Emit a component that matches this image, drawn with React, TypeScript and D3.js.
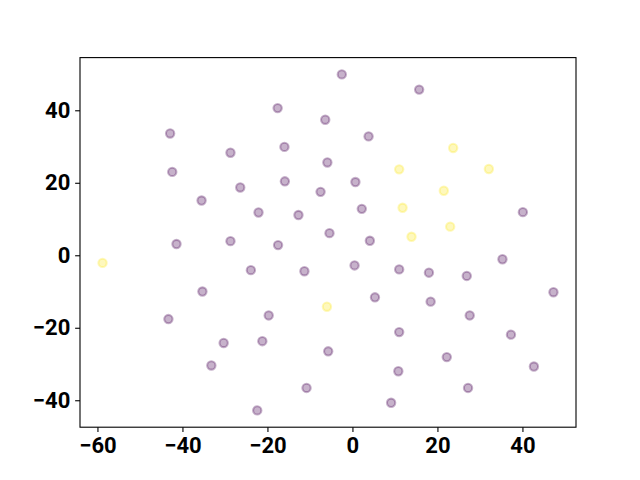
import React, { useEffect, useRef } from "react";
import * as d3 from "d3";

// t-SNE style embedding, two groups
const purpleX = [
  -17.6, -6.4, -42.9, -28.7, -16.0, -5.9, -42.4, -26.4, -15.9, -7.5, -35.5, -22.1, -12.7, -5.4, -41.4, -28.7, -17.5,
  -2.5, 15.7, 3.8, 0.7, 2.2, 40.1, 4.1,
  -23.9, -11.3, -35.3, -43.3, -19.7, -30.3, -21.2, -5.7, -33.2, -10.8, -22.4,
  35.3, 0.5, 11.0, 18.0, 26.9, 47.3, 5.3, 18.4, 27.6, 11.0, 37.3, 22.2, 42.7, 10.8, 27.2, 9.1,
];
const purpleY = [
  40.6, 37.4, 33.6, 28.3, 29.9, 25.6, 23.0, 18.7, 20.4, 17.5, 15.1, 11.8, 11.1, 6.1, 3.1, 3.9, 2.8,
  49.9, 45.7, 32.8, 20.2, 12.8, 11.9, 4.0,
  -4.1, -4.4, -10.0, -17.6, -16.6, -24.2, -23.7, -26.5, -30.4, -36.6, -42.8,
  -1.1, -2.8, -3.9, -4.8, -5.7, -10.2, -11.6, -12.8, -16.6, -21.2, -21.9, -28.1, -30.7, -32.0, -36.6, -40.7,
];
const yellowX = [23.7, 11.0, 32.1, 21.5, 11.8, 23.0, 13.9, -58.8, -6.0];
const yellowY = [29.6, 23.7, 23.8, 17.8, 13.1, 7.9, 5.1, -2.1, -14.2];

const xTicks = [-60, -40, -20, 0, 20, 40];
const yTicks = [-40, -20, 0, 20, 40];

const width = 640;
const height = 480;
const margin = { left: 80, right: 64, top: 57.6, bottom: 52.8 };

const App = () => {
  const ref = useRef<SVGGElement>(null);

  useEffect(() => {
    const g = d3.select(ref.current);
    g.selectAll("*").remove();

    const allX = purpleX.concat(yellowX);
    const allY = purpleY.concat(yellowY);
    const [x0, x1] = d3.extent(allX) as [number, number];
    const [y0, y1] = d3.extent(allY) as [number, number];
    const dx = (x1 - x0) * 0.05;
    const dy = (y1 - y0) * 0.05;

    const x = d3
      .scaleLinear()
      .domain([x0 - dx, x1 + dx])
      .range([margin.left, width - margin.right]);
    const y = d3
      .scaleLinear()
      .domain([y0 - dy, y1 + dy])
      .range([height - margin.bottom, margin.top]);

    const points = purpleX
      .map((v, i) => ({ x: v, y: purpleY[i], c: "#440154" }))
      .concat(yellowX.map((v, i) => ({ x: v, y: yellowY[i], c: "#fde725" })));

    g.selectAll("circle.pt")
      .data(points)
      .enter()
      .append("circle")
      .attr("class", "pt")
      .attr("cx", d => x(d.x))
      .attr("cy", d => y(d.y))
      .attr("r", 4.17)
      .attr("fill", d => d.c)
      .attr("fill-opacity", 0.3)
      .attr("stroke", d => d.c)
      .attr("stroke-opacity", 0.3)
      .attr("stroke-width", 2.08);

    const fontSize = 22;

    const xAxis = g
      .append("g")
      .attr("transform", `translate(0,${height - margin.bottom})`)
      .call(d3.axisBottom(x).tickValues(xTicks).tickSize(4.86).tickPadding(4.86).tickFormat(d => d3.format("d")(d as number).replace("-", "\u2212")));
    const yAxis = g
      .append("g")
      .attr("transform", `translate(${margin.left},0)`)
      .call(d3.axisLeft(y).tickValues(yTicks).tickSize(4.86).tickPadding(4.86).tickFormat(d => d3.format("d")(d as number).replace("-", "\u2212")));

    [xAxis, yAxis].forEach(a => {
      a.select(".domain").remove();
      a.selectAll("line").attr("stroke", "#000").attr("stroke-width", 1.1);
      a.selectAll("text")
        .attr("fill", "#000")
        .style("font-family", "Roboto, 'DejaVu Sans', sans-serif")
        .style("font-weight", "bold")
        .style("font-size", fontSize + "px");
    });

    g.append("rect")
      .attr("x", margin.left)
      .attr("y", margin.top)
      .attr("width", width - margin.left - margin.right)
      .attr("height", height - margin.top - margin.bottom)
      .attr("fill", "none")
      .attr("stroke", "#000")
      .attr("stroke-width", 1.1);
  }, []);

  return (
    <svg width={width} height={height} style={{ position: "absolute", left: 0, top: 0, background: "#fff" }}>
      <g ref={ref} />
    </svg>
  );
};

export default App;
